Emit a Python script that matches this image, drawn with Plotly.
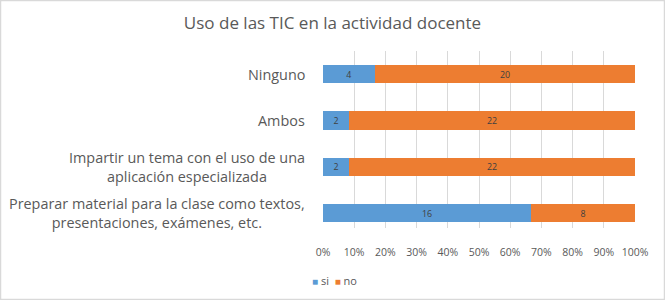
import plotly.graph_objects as go

title = "Uso de las TIC en la actividad docente"
categories = [
    "Preparar material para la clase como textos,<br>presentaciones, exámenes, etc.",
    "Impartir un tema con el uso de una<br>aplicación especializada",
    "Ambos",
    "Ninguno",
]
si_values = [16, 2, 2, 4]
no_values = [8, 22, 22, 20]
series_names = ["si", "no"]
colors = ["#5B9BD5", "#ED7D31"]

FONT = "Open Sans"
GRAY = "#595959"

fig = go.Figure()
for name, vals, col in zip(series_names, [si_values, no_values], colors):
    fig.add_trace(go.Bar(
        y=list(range(len(categories))), x=vals, name=name, orientation="h",
        marker=dict(color=col, line=dict(width=0)),
        text=[str(v) for v in vals], textposition="inside",
        insidetextanchor="middle", textangle=0,
        textfont=dict(family=FONT, size=11, color="#404040"),
        width=0.39, hoverinfo="skip",
    ))

W, H = 665, 300
L, R, T, B = 323, 30, 51, 72
pw, ph = W - L - R, H - T - B

annotations = []
for i, c in enumerate(categories):
    annotations.append(dict(
        x=(307 - L) / pw, xref="paper", xanchor="right",
        y=i, yref="y", yanchor="middle",
        text=c, showarrow=False, align="center",
        font=dict(family=FONT, size=14.4, color=GRAY),
    ))

legend_text = "&nbsp;&nbsp;".join(
    f'<span style="color:{c};font-size:10px">■</span> {n}'
    for n, c in zip(series_names, colors)
)
annotations.append(dict(
    x=(310 - L) / pw, xref="paper", xanchor="left",
    y=(228 - 280) / ph, yref="paper", yanchor="middle",
    text=legend_text, showarrow=False, align="left",
    font=dict(family=FONT, size=11, color=GRAY),
))

fig.update_layout(
    width=W, height=H,
    margin=dict(l=L, r=R, t=T, b=B),
    barmode="stack", barnorm="percent",
    paper_bgcolor="white", plot_bgcolor="white",
    title=dict(text=title, x=0.5, xref="container", xanchor="center",
               y=1 - 23 / H, yref="container", yanchor="middle",
               font=dict(family=FONT, size=17, color=GRAY)),
    xaxis=dict(range=[0, 100], dtick=10, ticksuffix="%", showgrid=True,
               gridcolor="#D9D9D9", gridwidth=1, zeroline=False,
               showline=False, ticks="", ticklabelstandoff=16,
               tickfont=dict(family=FONT, size=10.5, color=GRAY)),
    yaxis=dict(range=[-0.32, 3.5], showticklabels=False, showgrid=False,
               zeroline=False, showline=False, ticks=""),
    showlegend=False,
    annotations=annotations,
    shapes=[dict(type="rect", xref="paper", yref="paper",
                 x0=(0.5 - L) / pw, x1=(664.5 - L) / pw,
                 y0=(228 - 299.5) / ph, y1=(228 - 0.5) / ph,
                 line=dict(color="#D9D9D9", width=1.5), fillcolor="rgba(0,0,0,0)",
                 layer="below")],
)

fig.write_html("out.html", config={"displayModeBar": False},
               post_script="document.body.style.margin='0';")
